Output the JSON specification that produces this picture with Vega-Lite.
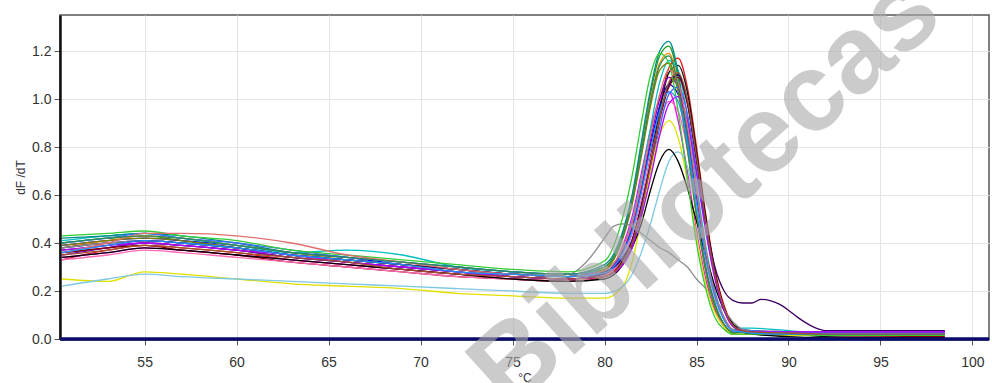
{
"$schema": "https://vega.github.io/schema/vega-lite/v6.json",
"width": 929, "height": 324,
"autosize": {"type": "none"},
"padding": {"left": 60, "top": 15, "right": 3, "bottom": 44},
"background": "white",
"config": {"view": {"stroke": "#555555", "strokeWidth": 1.5}, "font": "Liberation Sans"},
"datasets": {
"curves": [
{"s":"a","t":50.5,"v":0.33},{"s":"a","t":53,"v":0.37},{"s":"a","t":55,"v":0.39},{"s":"a","t":57,"v":0.38},{"s":"a","t":60,"v":0.36},{"s":"a","t":63,"v":0.33},{"s":"a","t":66,"v":0.31},{"s":"a","t":69,"v":0.29},{"s":"a","t":72,"v":0.27},{"s":"a","t":75,"v":0.25},{"s":"a","t":78,"v":0.24},{"s":"a","t":80,"v":0.26},{"s":"a","t":81,"v":0.33},{"s":"a","t":81.5,"v":0.41},{"s":"a","t":82,"v":0.56},{"s":"a","t":82.5,"v":0.76},{"s":"a","t":83,"v":0.97},{"s":"a","t":83.5,"v":1.13},{"s":"a","t":84,"v":1.17},{"s":"a","t":84.5,"v":1.05},{"s":"a","t":85,"v":0.8},{"s":"a","t":85.5,"v":0.52},{"s":"a","t":86,"v":0.29},{"s":"a","t":86.5,"v":0.14},{"s":"a","t":87,"v":0.06},{"s":"a","t":87.5,"v":0.04},{"s":"a","t":88,"v":0.035},{"s":"a","t":90,"v":0.03},{"s":"a","t":92,"v":0.025},{"s":"a","t":98.5,"v":0.025},
{"s":"b","t":50.5,"v":0.4},{"s":"b","t":53,"v":0.42},{"s":"b","t":55,"v":0.43},{"s":"b","t":57,"v":0.41},{"s":"b","t":60,"v":0.38},{"s":"b","t":63,"v":0.35},{"s":"b","t":66,"v":0.33},{"s":"b","t":69,"v":0.31},{"s":"b","t":72,"v":0.29},{"s":"b","t":75,"v":0.27},{"s":"b","t":78,"v":0.26},{"s":"b","t":80,"v":0.3},{"s":"b","t":81,"v":0.44},{"s":"b","t":81.5,"v":0.59},{"s":"b","t":82,"v":0.8},{"s":"b","t":82.5,"v":1.02},{"s":"b","t":83,"v":1.18},{"s":"b","t":83.5,"v":1.22},{"s":"b","t":84,"v":1.09},{"s":"b","t":84.5,"v":0.83},{"s":"b","t":85,"v":0.54},{"s":"b","t":85.5,"v":0.3},{"s":"b","t":86,"v":0.14},{"s":"b","t":86.5,"v":0.06},{"s":"b","t":87,"v":0.03},{"s":"b","t":87.5,"v":0.03},{"s":"b","t":88,"v":0.03},{"s":"b","t":90,"v":0.025},{"s":"b","t":92,"v":0.02},{"s":"b","t":98.5,"v":0.02},
{"s":"c","t":50.5,"v":0.39},{"s":"c","t":53,"v":0.41},{"s":"c","t":55,"v":0.42},{"s":"c","t":57,"v":0.41},{"s":"c","t":60,"v":0.39},{"s":"c","t":63,"v":0.36},{"s":"c","t":66,"v":0.34},{"s":"c","t":69,"v":0.31},{"s":"c","t":72,"v":0.29},{"s":"c","t":75,"v":0.27},{"s":"c","t":78,"v":0.26},{"s":"c","t":80,"v":0.275},{"s":"c","t":81,"v":0.36},{"s":"c","t":81.5,"v":0.46},{"s":"c","t":82,"v":0.62},{"s":"c","t":82.5,"v":0.81},{"s":"c","t":83,"v":0.97},{"s":"c","t":83.5,"v":1.06},{"s":"c","t":84,"v":1.02},{"s":"c","t":84.5,"v":0.85},{"s":"c","t":85,"v":0.59},{"s":"c","t":85.5,"v":0.35},{"s":"c","t":86,"v":0.18},{"s":"c","t":86.5,"v":0.08},{"s":"c","t":87,"v":0.035},{"s":"c","t":87.5,"v":0.03},{"s":"c","t":88,"v":0.03},{"s":"c","t":90,"v":0.025},{"s":"c","t":92,"v":0.02},{"s":"c","t":98.5,"v":0.02},
{"s":"d","t":50.5,"v":0.34},{"s":"d","t":53,"v":0.36},{"s":"d","t":55,"v":0.38},{"s":"d","t":57,"v":0.37},{"s":"d","t":60,"v":0.35},{"s":"d","t":63,"v":0.33},{"s":"d","t":66,"v":0.31},{"s":"d","t":69,"v":0.29},{"s":"d","t":72,"v":0.27},{"s":"d","t":75,"v":0.26},{"s":"d","t":78,"v":0.25},{"s":"d","t":80,"v":0.27},{"s":"d","t":81,"v":0.39},{"s":"d","t":81.5,"v":0.51},{"s":"d","t":82,"v":0.69},{"s":"d","t":82.5,"v":0.87},{"s":"d","t":83,"v":1.0},{"s":"d","t":83.5,"v":1.03},{"s":"d","t":84,"v":0.91},{"s":"d","t":84.5,"v":0.7},{"s":"d","t":85,"v":0.45},{"s":"d","t":85.5,"v":0.25},{"s":"d","t":86,"v":0.12},{"s":"d","t":86.5,"v":0.05},{"s":"d","t":87,"v":0.02},{"s":"d","t":87.5,"v":0.02},{"s":"d","t":88,"v":0.02},{"s":"d","t":90,"v":0.02},{"s":"d","t":92,"v":0.015},{"s":"d","t":98.5,"v":0.015},
{"s":"e","t":50.5,"v":0.36},{"s":"e","t":53,"v":0.38},{"s":"e","t":55,"v":0.4},{"s":"e","t":57,"v":0.39},{"s":"e","t":60,"v":0.37},{"s":"e","t":63,"v":0.34},{"s":"e","t":66,"v":0.32},{"s":"e","t":69,"v":0.3},{"s":"e","t":72,"v":0.28},{"s":"e","t":75,"v":0.26},{"s":"e","t":78,"v":0.25},{"s":"e","t":80,"v":0.27},{"s":"e","t":81,"v":0.33},{"s":"e","t":81.5,"v":0.41},{"s":"e","t":82,"v":0.56},{"s":"e","t":82.5,"v":0.75},{"s":"e","t":83,"v":0.95},{"s":"e","t":83.5,"v":1.11},{"s":"e","t":84,"v":1.14},{"s":"e","t":84.5,"v":1.03},{"s":"e","t":85,"v":0.78},{"s":"e","t":85.5,"v":0.51},{"s":"e","t":86,"v":0.28},{"s":"e","t":86.5,"v":0.13},{"s":"e","t":87,"v":0.06},{"s":"e","t":87.5,"v":0.04},{"s":"e","t":88,"v":0.03},{"s":"e","t":90,"v":0.02},{"s":"e","t":92,"v":0.01},{"s":"e","t":98.5,"v":0.005},
{"s":"f","t":50.5,"v":0.38},{"s":"f","t":53,"v":0.41},{"s":"f","t":55,"v":0.43},{"s":"f","t":57,"v":0.42},{"s":"f","t":60,"v":0.39},{"s":"f","t":63,"v":0.36},{"s":"f","t":66,"v":0.33},{"s":"f","t":69,"v":0.31},{"s":"f","t":72,"v":0.29},{"s":"f","t":75,"v":0.27},{"s":"f","t":78,"v":0.26},{"s":"f","t":80,"v":0.29},{"s":"f","t":81,"v":0.43},{"s":"f","t":81.5,"v":0.57},{"s":"f","t":82,"v":0.78},{"s":"f","t":82.5,"v":1.0},{"s":"f","t":83,"v":1.15},{"s":"f","t":83.5,"v":1.19},{"s":"f","t":84,"v":1.06},{"s":"f","t":84.5,"v":0.81},{"s":"f","t":85,"v":0.52},{"s":"f","t":85.5,"v":0.29},{"s":"f","t":86,"v":0.14},{"s":"f","t":86.5,"v":0.06},{"s":"f","t":87,"v":0.025},{"s":"f","t":87.5,"v":0.03},{"s":"f","t":88,"v":0.025},{"s":"f","t":90,"v":0.02},{"s":"f","t":92,"v":0.02},{"s":"f","t":98.5,"v":0.02},
{"s":"g","t":50.5,"v":0.41},{"s":"g","t":53,"v":0.43},{"s":"g","t":55,"v":0.44},{"s":"g","t":57,"v":0.42},{"s":"g","t":60,"v":0.39},{"s":"g","t":63,"v":0.36},{"s":"g","t":66,"v":0.37},{"s":"g","t":69,"v":0.35},{"s":"g","t":72,"v":0.3},{"s":"g","t":75,"v":0.28},{"s":"g","t":78,"v":0.27},{"s":"g","t":80,"v":0.29},{"s":"g","t":81,"v":0.38},{"s":"g","t":81.5,"v":0.49},{"s":"g","t":82,"v":0.67},{"s":"g","t":82.5,"v":0.88},{"s":"g","t":83,"v":1.07},{"s":"g","t":83.5,"v":1.16},{"s":"g","t":84,"v":1.12},{"s":"g","t":84.5,"v":0.93},{"s":"g","t":85,"v":0.65},{"s":"g","t":85.5,"v":0.39},{"s":"g","t":86,"v":0.2},{"s":"g","t":86.5,"v":0.09},{"s":"g","t":87,"v":0.04},{"s":"g","t":87.5,"v":0.045},{"s":"g","t":88,"v":0.045},{"s":"g","t":90,"v":0.035},{"s":"g","t":92,"v":0.025},{"s":"g","t":98.5,"v":0.025},
{"s":"h","t":50.5,"v":0.35},{"s":"h","t":53,"v":0.38},{"s":"h","t":55,"v":0.4},{"s":"h","t":57,"v":0.39},{"s":"h","t":60,"v":0.37},{"s":"h","t":63,"v":0.34},{"s":"h","t":66,"v":0.32},{"s":"h","t":69,"v":0.3},{"s":"h","t":72,"v":0.28},{"s":"h","t":75,"v":0.26},{"s":"h","t":78,"v":0.25},{"s":"h","t":80,"v":0.275},{"s":"h","t":81,"v":0.37},{"s":"h","t":81.5,"v":0.47},{"s":"h","t":82,"v":0.63},{"s":"h","t":82.5,"v":0.83},{"s":"h","t":83,"v":1.0},{"s":"h","t":83.5,"v":1.09},{"s":"h","t":84,"v":1.05},{"s":"h","t":84.5,"v":0.87},{"s":"h","t":85,"v":0.61},{"s":"h","t":85.5,"v":0.36},{"s":"h","t":86,"v":0.19},{"s":"h","t":86.5,"v":0.08},{"s":"h","t":87,"v":0.035},{"s":"h","t":87.5,"v":0.035},{"s":"h","t":88,"v":0.03},{"s":"h","t":90,"v":0.03},{"s":"h","t":92,"v":0.03},{"s":"h","t":98.5,"v":0.03},
{"s":"i","t":50.5,"v":0.38},{"s":"i","t":53,"v":0.4},{"s":"i","t":55,"v":0.41},{"s":"i","t":57,"v":0.4},{"s":"i","t":60,"v":0.38},{"s":"i","t":63,"v":0.35},{"s":"i","t":66,"v":0.33},{"s":"i","t":69,"v":0.31},{"s":"i","t":72,"v":0.29},{"s":"i","t":75,"v":0.27},{"s":"i","t":78,"v":0.26},{"s":"i","t":80,"v":0.28},{"s":"i","t":81,"v":0.34},{"s":"i","t":81.5,"v":0.41},{"s":"i","t":82,"v":0.55},{"s":"i","t":82.5,"v":0.73},{"s":"i","t":83,"v":0.92},{"s":"i","t":83.5,"v":1.06},{"s":"i","t":84,"v":1.1},{"s":"i","t":84.5,"v":0.99},{"s":"i","t":85,"v":0.75},{"s":"i","t":85.5,"v":0.49},{"s":"i","t":86,"v":0.27},{"s":"i","t":86.5,"v":0.13},{"s":"i","t":87,"v":0.055},{"s":"i","t":87.5,"v":0.035},{"s":"i","t":88,"v":0.03},{"s":"i","t":90,"v":0.025},{"s":"i","t":92,"v":0.02},{"s":"i","t":98.5,"v":0.02},
{"s":"j","t":50.5,"v":0.42},{"s":"j","t":53,"v":0.43},{"s":"j","t":55,"v":0.44},{"s":"j","t":57,"v":0.43},{"s":"j","t":60,"v":0.4},{"s":"j","t":63,"v":0.36},{"s":"j","t":66,"v":0.34},{"s":"j","t":69,"v":0.32},{"s":"j","t":72,"v":0.3},{"s":"j","t":75,"v":0.28},{"s":"j","t":78,"v":0.27},{"s":"j","t":80,"v":0.31},{"s":"j","t":81,"v":0.45},{"s":"j","t":81.5,"v":0.6},{"s":"j","t":82,"v":0.82},{"s":"j","t":82.5,"v":1.04},{"s":"j","t":83,"v":1.2},{"s":"j","t":83.5,"v":1.24},{"s":"j","t":84,"v":1.11},{"s":"j","t":84.5,"v":0.85},{"s":"j","t":85,"v":0.55},{"s":"j","t":85.5,"v":0.3},{"s":"j","t":86,"v":0.15},{"s":"j","t":86.5,"v":0.06},{"s":"j","t":87,"v":0.026},{"s":"j","t":87.5,"v":0.03},{"s":"j","t":88,"v":0.03},{"s":"j","t":90,"v":0.025},{"s":"j","t":92,"v":0.02},{"s":"j","t":98.5,"v":0.02},
{"s":"k","t":50.5,"v":0.36},{"s":"k","t":53,"v":0.38},{"s":"k","t":55,"v":0.39},{"s":"k","t":57,"v":0.37},{"s":"k","t":60,"v":0.35},{"s":"k","t":63,"v":0.32},{"s":"k","t":66,"v":0.3},{"s":"k","t":69,"v":0.28},{"s":"k","t":72,"v":0.26},{"s":"k","t":75,"v":0.25},{"s":"k","t":78,"v":0.24},{"s":"k","t":80,"v":0.26},{"s":"k","t":81,"v":0.32},{"s":"k","t":81.5,"v":0.395},{"s":"k","t":82,"v":0.53},{"s":"k","t":82.5,"v":0.71},{"s":"k","t":83,"v":0.91},{"s":"k","t":83.5,"v":1.05},{"s":"k","t":84,"v":1.09},{"s":"k","t":84.5,"v":0.98},{"s":"k","t":85,"v":0.745},{"s":"k","t":85.5,"v":0.48},{"s":"k","t":86,"v":0.27},{"s":"k","t":86.5,"v":0.13},{"s":"k","t":87,"v":0.054},{"s":"k","t":87.5,"v":0.03},{"s":"k","t":88,"v":0.025},{"s":"k","t":90,"v":0.02},{"s":"k","t":92,"v":0.015},{"s":"k","t":98.5,"v":0.01},
{"s":"l","t":50.5,"v":0.33},{"s":"l","t":53,"v":0.35},{"s":"l","t":55,"v":0.37},{"s":"l","t":57,"v":0.36},{"s":"l","t":60,"v":0.34},{"s":"l","t":63,"v":0.32},{"s":"l","t":66,"v":0.3},{"s":"l","t":69,"v":0.28},{"s":"l","t":72,"v":0.26},{"s":"l","t":75,"v":0.25},{"s":"l","t":78,"v":0.24},{"s":"l","t":80,"v":0.265},{"s":"l","t":81,"v":0.34},{"s":"l","t":81.5,"v":0.435},{"s":"l","t":82,"v":0.58},{"s":"l","t":82.5,"v":0.75},{"s":"l","t":83,"v":0.91},{"s":"l","t":83.5,"v":0.99},{"s":"l","t":84,"v":0.95},{"s":"l","t":84.5,"v":0.79},{"s":"l","t":85,"v":0.55},{"s":"l","t":85.5,"v":0.33},{"s":"l","t":86,"v":0.17},{"s":"l","t":86.5,"v":0.08},{"s":"l","t":87,"v":0.033},{"s":"l","t":87.5,"v":0.03},{"s":"l","t":88,"v":0.025},{"s":"l","t":90,"v":0.02},{"s":"l","t":92,"v":0.02},{"s":"l","t":98.5,"v":0.02},
{"s":"m","t":50.5,"v":0.39},{"s":"m","t":53,"v":0.41},{"s":"m","t":55,"v":0.42},{"s":"m","t":57,"v":0.41},{"s":"m","t":60,"v":0.38},{"s":"m","t":63,"v":0.35},{"s":"m","t":66,"v":0.33},{"s":"m","t":69,"v":0.31},{"s":"m","t":72,"v":0.28},{"s":"m","t":75,"v":0.27},{"s":"m","t":78,"v":0.26},{"s":"m","t":80,"v":0.29},{"s":"m","t":81,"v":0.42},{"s":"m","t":81.5,"v":0.56},{"s":"m","t":82,"v":0.76},{"s":"m","t":82.5,"v":0.97},{"s":"m","t":83,"v":1.12},{"s":"m","t":83.5,"v":1.15},{"s":"m","t":84,"v":1.03},{"s":"m","t":84.5,"v":0.79},{"s":"m","t":85,"v":0.51},{"s":"m","t":85.5,"v":0.28},{"s":"m","t":86,"v":0.13},{"s":"m","t":86.5,"v":0.06},{"s":"m","t":87,"v":0.024},{"s":"m","t":87.5,"v":0.03},{"s":"m","t":88,"v":0.025},{"s":"m","t":90,"v":0.02},{"s":"m","t":92,"v":0.02},{"s":"m","t":98.5,"v":0.02},
{"s":"n","t":50.5,"v":0.4},{"s":"n","t":53,"v":0.42},{"s":"n","t":55,"v":0.44},{"s":"n","t":57,"v":0.42},{"s":"n","t":60,"v":0.4},{"s":"n","t":63,"v":0.37},{"s":"n","t":66,"v":0.34},{"s":"n","t":69,"v":0.32},{"s":"n","t":72,"v":0.3},{"s":"n","t":75,"v":0.28},{"s":"n","t":78,"v":0.27},{"s":"n","t":80,"v":0.28},{"s":"n","t":81,"v":0.34},{"s":"n","t":81.5,"v":0.41},{"s":"n","t":82,"v":0.53},{"s":"n","t":82.5,"v":0.7},{"s":"n","t":83,"v":0.88},{"s":"n","t":83.5,"v":1.02},{"s":"n","t":84,"v":1.05},{"s":"n","t":84.5,"v":0.94},{"s":"n","t":85,"v":0.71},{"s":"n","t":85.5,"v":0.46},{"s":"n","t":86,"v":0.26},{"s":"n","t":86.5,"v":0.12},{"s":"n","t":87,"v":0.053},{"s":"n","t":87.5,"v":0.04},{"s":"n","t":88,"v":0.035},{"s":"n","t":90,"v":0.03},{"s":"n","t":92,"v":0.025},{"s":"n","t":98.5,"v":0.025},
{"s":"o","t":50.5,"v":0.38},{"s":"o","t":53,"v":0.4},{"s":"o","t":55,"v":0.41},{"s":"o","t":57,"v":0.4},{"s":"o","t":60,"v":0.38},{"s":"o","t":63,"v":0.35},{"s":"o","t":66,"v":0.33},{"s":"o","t":69,"v":0.31},{"s":"o","t":72,"v":0.29},{"s":"o","t":75,"v":0.27},{"s":"o","t":78,"v":0.27},{"s":"o","t":79,"v":0.32},{"s":"o","t":80,"v":0.42},{"s":"o","t":80.5,"v":0.47},{"s":"o","t":81,"v":0.48},{"s":"o","t":81.5,"v":0.47},{"s":"o","t":82,"v":0.44},{"s":"o","t":82.5,"v":0.41},{"s":"o","t":83,"v":0.38},{"s":"o","t":83.5,"v":0.36},{"s":"o","t":84,"v":0.33},{"s":"o","t":84.5,"v":0.3},{"s":"o","t":85,"v":0.25},{"s":"o","t":85.5,"v":0.21},{"s":"o","t":86,"v":0.16},{"s":"o","t":86.5,"v":0.12},{"s":"o","t":87,"v":0.07},{"s":"o","t":87.5,"v":0.04},{"s":"o","t":88,"v":0.03},{"s":"o","t":90,"v":0.025},{"s":"o","t":92,"v":0.02},{"s":"o","t":98.5,"v":0.02},
{"s":"p","t":50.5,"v":0.25},{"s":"p","t":53,"v":0.24},{"s":"p","t":55,"v":0.28},{"s":"p","t":57,"v":0.27},{"s":"p","t":60,"v":0.25},{"s":"p","t":63,"v":0.23},{"s":"p","t":66,"v":0.22},{"s":"p","t":69,"v":0.21},{"s":"p","t":72,"v":0.19},{"s":"p","t":75,"v":0.18},{"s":"p","t":78,"v":0.17},{"s":"p","t":80,"v":0.17},{"s":"p","t":81,"v":0.22},{"s":"p","t":81.5,"v":0.32},{"s":"p","t":82,"v":0.5},{"s":"p","t":82.5,"v":0.7},{"s":"p","t":83,"v":0.85},{"s":"p","t":83.5,"v":0.91},{"s":"p","t":84,"v":0.84},{"s":"p","t":84.5,"v":0.66},{"s":"p","t":85,"v":0.43},{"s":"p","t":85.5,"v":0.23},{"s":"p","t":86,"v":0.11},{"s":"p","t":86.5,"v":0.05},{"s":"p","t":87,"v":0.02},{"s":"p","t":87.5,"v":0.02},{"s":"p","t":88,"v":0.02},{"s":"p","t":90,"v":0.015},{"s":"p","t":92,"v":0.015},{"s":"p","t":98.5,"v":0.015},
{"s":"q","t":50.5,"v":0.22},{"s":"q","t":53,"v":0.25},{"s":"q","t":55,"v":0.27},{"s":"q","t":57,"v":0.26},{"s":"q","t":60,"v":0.25},{"s":"q","t":63,"v":0.24},{"s":"q","t":66,"v":0.23},{"s":"q","t":69,"v":0.22},{"s":"q","t":72,"v":0.21},{"s":"q","t":75,"v":0.2},{"s":"q","t":78,"v":0.19},{"s":"q","t":80,"v":0.19},{"s":"q","t":81,"v":0.22},{"s":"q","t":81.5,"v":0.27},{"s":"q","t":82,"v":0.36},{"s":"q","t":82.5,"v":0.48},{"s":"q","t":83,"v":0.62},{"s":"q","t":83.5,"v":0.74},{"s":"q","t":84,"v":0.78},{"s":"q","t":84.5,"v":0.72},{"s":"q","t":85,"v":0.55},{"s":"q","t":85.5,"v":0.35},{"s":"q","t":86,"v":0.18},{"s":"q","t":86.5,"v":0.08},{"s":"q","t":87,"v":0.035},{"s":"q","t":87.5,"v":0.03},{"s":"q","t":88,"v":0.025},{"s":"q","t":90,"v":0.02},{"s":"q","t":92,"v":0.02},{"s":"q","t":98.5,"v":0.02},
{"s":"r","t":50.5,"v":0.37},{"s":"r","t":53,"v":0.39},{"s":"r","t":55,"v":0.41},{"s":"r","t":57,"v":0.4},{"s":"r","t":60,"v":0.38},{"s":"r","t":63,"v":0.35},{"s":"r","t":66,"v":0.33},{"s":"r","t":69,"v":0.31},{"s":"r","t":72,"v":0.29},{"s":"r","t":75,"v":0.27},{"s":"r","t":78,"v":0.26},{"s":"r","t":80,"v":0.28},{"s":"r","t":81,"v":0.34},{"s":"r","t":81.5,"v":0.41},{"s":"r","t":82,"v":0.55},{"s":"r","t":82.5,"v":0.73},{"s":"r","t":83,"v":0.92},{"s":"r","t":83.5,"v":1.06},{"s":"r","t":84,"v":1.1},{"s":"r","t":84.5,"v":0.99},{"s":"r","t":85,"v":0.75},{"s":"r","t":85.5,"v":0.49},{"s":"r","t":86,"v":0.3},{"s":"r","t":86.5,"v":0.2},{"s":"r","t":87,"v":0.16},{"s":"r","t":87.5,"v":0.15},{"s":"r","t":88,"v":0.15},{"s":"r","t":88.5,"v":0.165},{"s":"r","t":89,"v":0.16},{"s":"r","t":89.5,"v":0.145},{"s":"r","t":90,"v":0.12},{"s":"r","t":90.5,"v":0.09},{"s":"r","t":91,"v":0.065},{"s":"r","t":91.5,"v":0.045},{"s":"r","t":92,"v":0.035},{"s":"r","t":98.5,"v":0.035},
{"s":"s","t":50.5,"v":0.34},{"s":"s","t":53,"v":0.36},{"s":"s","t":55,"v":0.38},{"s":"s","t":57,"v":0.37},{"s":"s","t":60,"v":0.35},{"s":"s","t":63,"v":0.33},{"s":"s","t":66,"v":0.31},{"s":"s","t":69,"v":0.29},{"s":"s","t":72,"v":0.27},{"s":"s","t":75,"v":0.25},{"s":"s","t":78,"v":0.24},{"s":"s","t":80,"v":0.25},{"s":"s","t":81,"v":0.31},{"s":"s","t":81.5,"v":0.38},{"s":"s","t":82,"v":0.48},{"s":"s","t":82.5,"v":0.62},{"s":"s","t":83,"v":0.74},{"s":"s","t":83.5,"v":0.79},{"s":"s","t":84,"v":0.74},{"s":"s","t":84.5,"v":0.63},{"s":"s","t":85,"v":0.49},{"s":"s","t":85.5,"v":0.35},{"s":"s","t":86,"v":0.22},{"s":"s","t":86.5,"v":0.12},{"s":"s","t":87,"v":0.06},{"s":"s","t":87.5,"v":0.03},{"s":"s","t":88,"v":0.02},{"s":"s","t":90,"v":0.01},{"s":"s","t":92,"v":0.005},{"s":"s","t":98.5,"v":0.005},
{"s":"t","t":50.5,"v":0.43},{"s":"t","t":53,"v":0.44},{"s":"t","t":55,"v":0.45},{"s":"t","t":57,"v":0.43},{"s":"t","t":60,"v":0.41},{"s":"t","t":63,"v":0.37},{"s":"t","t":66,"v":0.35},{"s":"t","t":69,"v":0.33},{"s":"t","t":72,"v":0.31},{"s":"t","t":75,"v":0.29},{"s":"t","t":78,"v":0.28},{"s":"t","t":80,"v":0.325},{"s":"t","t":81,"v":0.51},{"s":"t","t":81.5,"v":0.68},{"s":"t","t":82,"v":0.9},{"s":"t","t":82.5,"v":1.1},{"s":"t","t":83,"v":1.19},{"s":"t","t":83.5,"v":1.15},{"s":"t","t":84,"v":0.95},{"s":"t","t":84.5,"v":0.67},{"s":"t","t":85,"v":0.4},{"s":"t","t":85.5,"v":0.21},{"s":"t","t":86,"v":0.09},{"s":"t","t":86.5,"v":0.04},{"s":"t","t":87,"v":0.02},{"s":"t","t":87.5,"v":0.02},{"s":"t","t":88,"v":0.02},{"s":"t","t":90,"v":0.02},{"s":"t","t":92,"v":0.015},{"s":"t","t":98.5,"v":0.015},
{"s":"u","t":50.5,"v":0.37},{"s":"u","t":53,"v":0.39},{"s":"u","t":55,"v":0.4},{"s":"u","t":57,"v":0.39},{"s":"u","t":60,"v":0.37},{"s":"u","t":63,"v":0.35},{"s":"u","t":66,"v":0.32},{"s":"u","t":69,"v":0.3},{"s":"u","t":72,"v":0.28},{"s":"u","t":75,"v":0.26},{"s":"u","t":78,"v":0.25},{"s":"u","t":80,"v":0.26},{"s":"u","t":81,"v":0.31},{"s":"u","t":81.5,"v":0.38},{"s":"u","t":82,"v":0.51},{"s":"u","t":82.5,"v":0.67},{"s":"u","t":83,"v":0.85},{"s":"u","t":83.5,"v":0.98},{"s":"u","t":84,"v":1.01},{"s":"u","t":84.5,"v":0.91},{"s":"u","t":85,"v":0.69},{"s":"u","t":85.5,"v":0.45},{"s":"u","t":86,"v":0.25},{"s":"u","t":86.5,"v":0.12},{"s":"u","t":87,"v":0.05},{"s":"u","t":87.5,"v":0.035},{"s":"u","t":88,"v":0.03},{"s":"u","t":90,"v":0.03},{"s":"u","t":92,"v":0.03},{"s":"u","t":98.5,"v":0.03},
{"s":"v","t":50.5,"v":0.36},{"s":"v","t":53,"v":0.4},{"s":"v","t":55,"v":0.44},{"s":"v","t":57,"v":0.44},{"s":"v","t":60,"v":0.43},{"s":"v","t":63,"v":0.4},{"s":"v","t":66,"v":0.35},{"s":"v","t":69,"v":0.32},{"s":"v","t":72,"v":0.29},{"s":"v","t":75,"v":0.27},{"s":"v","t":78,"v":0.26},{"s":"v","t":80,"v":0.285},{"s":"v","t":81,"v":0.38},{"s":"v","t":81.5,"v":0.48},{"s":"v","t":82,"v":0.65},{"s":"v","t":82.5,"v":0.85},{"s":"v","t":83,"v":1.02},{"s":"v","t":83.5,"v":1.12},{"s":"v","t":84,"v":1.07},{"s":"v","t":84.5,"v":0.89},{"s":"v","t":85,"v":0.62},{"s":"v","t":85.5,"v":0.37},{"s":"v","t":86,"v":0.19},{"s":"v","t":86.5,"v":0.09},{"s":"v","t":87,"v":0.037},{"s":"v","t":87.5,"v":0.03},{"s":"v","t":88,"v":0.025},{"s":"v","t":90,"v":0.02},{"s":"v","t":92,"v":0.02},{"s":"v","t":98.5,"v":0.02},
{"s":"w","t":50.5,"v":0.4},{"s":"w","t":53,"v":0.42},{"s":"w","t":55,"v":0.43},{"s":"w","t":57,"v":0.42},{"s":"w","t":60,"v":0.39},{"s":"w","t":63,"v":0.36},{"s":"w","t":66,"v":0.34},{"s":"w","t":69,"v":0.32},{"s":"w","t":72,"v":0.3},{"s":"w","t":75,"v":0.28},{"s":"w","t":78,"v":0.27},{"s":"w","t":80,"v":0.3},{"s":"w","t":81,"v":0.43},{"s":"w","t":81.5,"v":0.58},{"s":"w","t":82,"v":0.78},{"s":"w","t":82.5,"v":0.99},{"s":"w","t":83,"v":1.14},{"s":"w","t":83.5,"v":1.18},{"s":"w","t":84,"v":1.05},{"s":"w","t":84.5,"v":0.8},{"s":"w","t":85,"v":0.52},{"s":"w","t":85.5,"v":0.29},{"s":"w","t":86,"v":0.14},{"s":"w","t":86.5,"v":0.06},{"s":"w","t":87,"v":0.026},{"s":"w","t":87.5,"v":0.03},{"s":"w","t":88,"v":0.025},{"s":"w","t":90,"v":0.02},{"s":"w","t":92,"v":0.02},{"s":"w","t":98.5,"v":0.02},
{"s":"x","t":50.5,"v":0.36},{"s":"x","t":53,"v":0.39},{"s":"x","t":55,"v":0.41},{"s":"x","t":57,"v":0.4},{"s":"x","t":60,"v":0.38},{"s":"x","t":63,"v":0.35},{"s":"x","t":66,"v":0.33},{"s":"x","t":69,"v":0.31},{"s":"x","t":72,"v":0.28},{"s":"x","t":75,"v":0.27},{"s":"x","t":78,"v":0.26},{"s":"x","t":80,"v":0.275},{"s":"x","t":81,"v":0.36},{"s":"x","t":81.5,"v":0.45},{"s":"x","t":82,"v":0.61},{"s":"x","t":82.5,"v":0.79},{"s":"x","t":83,"v":0.95},{"s":"x","t":83.5,"v":1.03},{"s":"x","t":84,"v":0.99},{"s":"x","t":84.5,"v":0.82},{"s":"x","t":85,"v":0.57},{"s":"x","t":85.5,"v":0.34},{"s":"x","t":86,"v":0.18},{"s":"x","t":86.5,"v":0.08},{"s":"x","t":87,"v":0.034},{"s":"x","t":87.5,"v":0.03},{"s":"x","t":88,"v":0.025},{"s":"x","t":90,"v":0.02},{"s":"x","t":92,"v":0.02},{"s":"x","t":98.5,"v":0.02},
{"s":"y","t":50.5,"v":0.35},{"s":"y","t":53,"v":0.37},{"s":"y","t":55,"v":0.39},{"s":"y","t":57,"v":0.38},{"s":"y","t":60,"v":0.36},{"s":"y","t":63,"v":0.34},{"s":"y","t":66,"v":0.32},{"s":"y","t":69,"v":0.29},{"s":"y","t":72,"v":0.27},{"s":"y","t":75,"v":0.26},{"s":"y","t":78,"v":0.25},{"s":"y","t":80,"v":0.26},{"s":"y","t":81,"v":0.32},{"s":"y","t":81.5,"v":0.4},{"s":"y","t":82,"v":0.54},{"s":"y","t":82.5,"v":0.72},{"s":"y","t":83,"v":0.92},{"s":"y","t":83.5,"v":1.07},{"s":"y","t":84,"v":1.11},{"s":"y","t":84.5,"v":1.0},{"s":"y","t":85,"v":0.76},{"s":"y","t":85.5,"v":0.49},{"s":"y","t":86,"v":0.27},{"s":"y","t":86.5,"v":0.13},{"s":"y","t":87,"v":0.055},{"s":"y","t":87.5,"v":0.035},{"s":"y","t":88,"v":0.03},{"s":"y","t":90,"v":0.025},{"s":"y","t":92,"v":0.02},{"s":"y","t":98.5,"v":0.02}
],
"zero": [{"t":50.4,"v":0},{"t":100.9,"v":0}],
"mark": [{"t":85.5,"v":0.612,"w":"Bibliotecas"}]
},
"encoding": {
"x": {"field": "t", "type": "quantitative", "scale": {"domain": [50.4, 100.9], "nice": false, "zero": false},
 "axis": {"title": "°C", "values": [55,60,65,70,75,80,85,90,95,100], "grid": true, "gridColor": "#e4e4e4", "gridWidth": 1, "domainColor": "#111111", "domainWidth": 2, "tickColor": "#555555", "tickSize": 6, "labelPadding": 10, "labelFontSize": 14, "labelColor": "#333333", "labelFont": "Liberation Sans", "titleFontSize": 12, "titleFontWeight": "normal", "titleColor": "#333333", "titlePadding": 3, "titleFont": "Liberation Sans"}},
"y": {"field": "v", "type": "quantitative", "scale": {"domain": [0, 1.35], "nice": false, "zero": false},
 "axis": {"title": "dF /dT", "values": [0,0.2,0.4,0.6,0.8,1.0,1.2], "format": ".1f", "grid": true, "gridColor": "#e4e4e4", "gridWidth": 1, "domainColor": "#111111", "domainWidth": 2.5, "tickColor": "#555555", "tickSize": 6, "labelPadding": 3, "labelFontSize": 14, "labelColor": "#333333", "labelFont": "Liberation Sans", "titleFontSize": 12, "titleFontWeight": "normal", "titleColor": "#333333", "titlePadding": 4, "titleFont": "Liberation Sans"}}
},
"layer": [
{"data": {"name": "curves"}, "mark": {"type": "line", "interpolate": "monotone", "strokeWidth": 1.3, "clip": true},
 "encoding": {"color": {"field": "s", "type": "nominal", "legend": null,
  "scale": {"domain": ["a","b","c","d","e","f","g","h","i","j","k","l","m","n","o","p","q","r","s","t","u","v","w","x","y"],
   "range": ["#e41a1c","#1a9a1a","#0000ff","#ff00ff","#111111","#ff8c00","#00c0c0","#8000c0","#000080","#008b8b","#8b0000","#ff69b4","#808000","#3a6cff","#8c8c8c","#e0e000","#7ec8e3","#3c0060","#000000","#32cd32","#b000ff","#e07070","#2e8b57","#1e90ff","#a0522d"]}}}},
{"data": {"name": "zero"}, "mark": {"type": "line", "color": "#0a0a6a", "strokeWidth": 3.5, "clip": false}, "encoding": {}},
{"data": {"name": "mark"}, "mark": {"type": "text", "angle": -42, "fontSize": 110, "fontWeight": "bold", "font": "Liberation Sans", "color": "#aaaaaa", "opacity": 0.6, "align": "center", "baseline": "middle"},
 "encoding": {"text": {"field": "w"}}}
]
}
